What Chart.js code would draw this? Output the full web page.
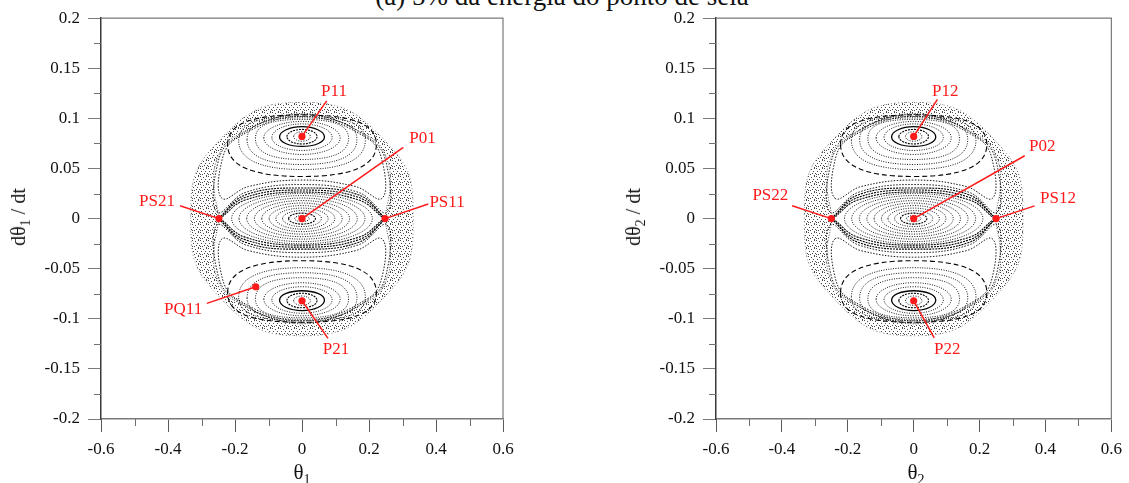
<!DOCTYPE html>
<html lang="pt">
<head>
<meta charset="UTF-8" />
<title>Seção de Poincaré</title>
<script src="https://cdn.jsdelivr.net/npm/chart.js"></script>
<style>
  html, body { margin: 0; padding: 0; background: #fff; }
  body { width: 1129px; height: 483px; overflow: hidden; position: relative;
         font-family: "Liberation Serif", "Times New Roman", serif; color: #111; }
  canvas { position: absolute; top: 0; }
  #left { left: 0; }
  #right { left: 560px; }
  .t { position: absolute; white-space: nowrap; line-height: 1; }
  .title { font-size: 27px; left: 0; width: 1124px; text-align: center; top: -17px; }
  .xt { font-size: 21px; top: 462px; transform: translateX(-50%); }
  .yt { font-size: 20px; top: 217px; transform: translate(-50%, -50%) rotate(-90deg); }
  .s { font-size: 14px; position: relative; top: 5px; }
</style>
</head>
<body>
<div class="t title">(a) 5% da energia do ponto de sela</div>
<canvas id="left" width="560" height="483"></canvas>
<canvas id="right" width="569" height="483"></canvas>
<div class="t yt" style="left:18px">dθ<span class="s">1</span> / dt</div>
<div class="t yt" style="left:633px">dθ<span class="s">2</span> / dt</div>
<div class="t xt" style="left:302px">θ<span class="s">1</span></div>
<div class="t xt" style="left:916px">θ<span class="s">2</span></div>
<script>
// eixos
const xTicks = [-0.6, -0.4, -0.2, 0, 0.2, 0.4, 0.6];
const xTickLabels = ["-0.6", "-0.4", "-0.2", "0", "0.2", "0.4", "0.6"];
const xMinor = [-0.5, -0.3, -0.1, 0.1, 0.3, 0.5];
const yTicks = [-0.2, -0.15, -0.1, -0.05, 0, 0.05, 0.1, 0.15, 0.2];
const yTickLabels = ["-0.2", "-0.15", "-0.1", "-0.05", "0", "0.05", "0.1", "0.15", "0.2"];
const yMinor = [-0.175, -0.125, -0.075, -0.025, 0.025, 0.075, 0.125, 0.175];

// contorno do mar caótico (externo) e borda da região regular (interna)
const chaosOuter = [[-0.332, 0], [-0.25, 0.077], [0, 0.116], [0.25, 0.077],
  [0.332, 0], [0.25, -0.077], [0, -0.117], [-0.25, -0.077]];
const chaosInner = [[-0.249, 0], [-0.262, 0.028], [-0.258, 0.055], [-0.21, 0.08],
  [0, 0.105], [0.21, 0.08], [0.258, 0.055], [0.262, 0.028], [0.249, 0],
  [0.262, -0.028], [0.258, -0.055], [0.21, -0.08], [0, -0.105],
  [-0.21, -0.08], [-0.258, -0.055], [-0.262, -0.028]];

// órbitas em torno de P0 (esquerda, topo, direita, base)
const centralOrbits = [
  [[-0.022, 0], [0, 0.003], [0.022, 0], [0, -0.003]],
  [[-0.040, 0], [0, 0.0055], [0.040, 0], [0, -0.0055]],
  [[-0.058, 0], [0, 0.008], [0.058, 0], [0, -0.008]],
  [[-0.078, 0], [0, 0.0105], [0.078, 0], [0, -0.0105]],
  [[-0.098, 0], [0, 0.013], [0.098, 0], [0, -0.013]],
  [[-0.120, 0], [0, 0.0155], [0.120, 0], [0, -0.0155]],
  [[-0.142, 0], [0, 0.018], [0.142, 0], [0, -0.018]],
  [[-0.165, 0], [0, 0.0205], [0.165, 0], [0, -0.0205]],
  [[-0.188, 0], [0, 0.023], [0.188, 0], [0, -0.023]],
  [[-0.210, 0], [0, 0.0252], [0.210, 0], [0, -0.0252]]
];
// separatriz (arcos abertos de PS2 a PS1)
const separatrix = [
  [[-0.25, 0], [-0.17, 0.021], [0, 0.0285], [0.17, 0.021], [0.25, 0]],
  [[-0.25, 0], [-0.17, -0.021], [0, -0.0285], [0.17, -0.021], [0.25, 0]],
  [[-0.245, 0], [-0.17, 0.0185], [0, 0.0265], [0.17, 0.0185], [0.245, 0]],
  [[-0.245, 0], [-0.17, -0.0185], [0, -0.0265], [0.17, -0.0185], [0.245, 0]],
  [[-0.25, 0], [-0.17, 0.0235], [0, 0.0305], [0.17, 0.0235], [0.25, 0]],
  [[-0.25, 0], [-0.17, -0.0235], [0, -0.0305], [0.17, -0.0235], [0.25, 0]]
];
// órbitas em torno de P1 (ilha superior)
const upperOrbits = [
  [[-0.025, 0.082], [0, 0.0866], [0.025, 0.082], [0, 0.0772]],
  [[-0.045, 0.0818], [0, 0.089], [0.045, 0.0818], [0, 0.0745]],
  [[-0.067, 0.0815], [0, 0.0918], [0.067, 0.0815], [0, 0.072]],
  [[-0.090, 0.081], [0, 0.0945], [0.090, 0.081], [0, 0.068]],
  [[-0.114, 0.0805], [0, 0.097], [0.114, 0.0805], [0, 0.064]],
  [[-0.139, 0.080], [0, 0.099], [0.139, 0.080], [0, 0.059]],
  [[-0.164, 0.079], [0, 0.1005], [0.164, 0.079], [0, 0.054]],
  [[-0.189, 0.078], [0, 0.102], [0.189, 0.078], [0, 0.049]],
  [[-0.222, 0.074], [0, 0.1035], [0.222, 0.074], [0, 0.042]]
];
// órbitas em torno de P2 (ilha inferior)
const lowerOrbits = [
  [[-0.025, -0.082], [0, -0.0772], [0.025, -0.082], [0, -0.0866]],
  [[-0.045, -0.0818], [0, -0.0745], [0.045, -0.0818], [0, -0.089]],
  [[-0.067, -0.0815], [0, -0.072], [0.067, -0.0815], [0, -0.0918]],
  [[-0.090, -0.081], [0, -0.068], [0.090, -0.081], [0, -0.0945]],
  [[-0.114, -0.0805], [0, -0.064], [0.114, -0.0805], [0, -0.097]],
  [[-0.139, -0.080], [0, -0.059], [0.139, -0.080], [0, -0.099]],
  [[-0.164, -0.079], [0, -0.054], [0.164, -0.079], [0, -0.1005]],
  [[-0.189, -0.078], [0, -0.049], [0.189, -0.078], [0, -0.102]],
  [[-0.222, -0.074], [0, -0.042], [0.222, -0.074], [0, -0.1035]]
];
// órbitas que contornam as ilhas, junto à separatriz
const wrapOrbits = [
  [[-0.252, 0.006], [-0.258, 0.045], [-0.21, 0.078], [0, 0.104], [0.21, 0.078], [0.258, 0.045],
   [0.252, 0.006], [0.17, 0.026], [0, 0.034], [-0.17, 0.026]],
  [[-0.238, 0.02], [-0.243, 0.052], [-0.2, 0.079], [0, 0.102], [0.2, 0.079], [0.243, 0.052],
   [0.238, 0.02], [0.16, 0.032], [0, 0.0385], [-0.16, 0.032]],
  [[-0.252, -0.006], [-0.258, -0.045], [-0.21, -0.078], [0, -0.104], [0.21, -0.078], [0.258, -0.045],
   [0.252, -0.006], [0.17, -0.026], [0, -0.034], [-0.17, -0.026]],
  [[-0.238, -0.02], [-0.243, -0.052], [-0.2, -0.079], [0, -0.102], [0.2, -0.079], [0.243, -0.052],
   [0.238, -0.02], [0.16, -0.032], [0, -0.0385], [-0.16, -0.032]]
];

// pontos fixos e rótulos, painel θ1
const leftNames = ["P11", "P01", "PS21", "PS11", "PQ11", "P21"];
const leftPtX = [0, 0, -0.248, 0.248, -0.138, 0];
const leftPtY = [0.082, 0, 0, 0, -0.068, -0.082];
const leftLeadX = [0.0737, 0.3025, -0.364, 0.377, -0.284, 0.0776];
const leftLeadY = [0.1175, 0.071, 0.0129, 0.0146, -0.0846, -0.1195];
const leftTextX = [0.0955, 0.36, -0.433, 0.433, -0.355, 0.1015];
const leftTextY = [0.1264, 0.0801, 0.0169, 0.0159, -0.0906, -0.1304];

// pontos fixos e rótulos, painel θ2
const rightNames = ["P12", "P02", "PS22", "PS12", "P22"];
const rightPtX = [0, 0, -0.25, 0.25, 0];
const rightPtY = [0.082, 0, 0, 0, -0.082];
const rightLeadX = [0.072, 0.337, -0.369, 0.367, 0.0624];
const rightLeadY = [0.119, 0.0627, 0.0129, 0.0127, -0.119];
const rightTextX = [0.096, 0.39, -0.435, 0.438, 0.102];
const rightTextY = [0.1264, 0.0717, 0.0229, 0.0199, -0.1304];

const FONT = '"Liberation Serif", "Times New Roman", serif';
const RED = "#ff1a1a";

// textura pontilhada para a região caótica
const stippleDots = [[0, 0], [3, 1], [6, 0], [1, 3], [5, 3], [7, 5], [2, 6], [4, 5], [0, 6], [6, 7]];
function makeStipple(ctx) {
  const c = document.createElement("canvas");
  c.width = 8; c.height = 8;
  const g = c.getContext("2d");
  g.fillStyle = "#4a4a4a";
  stippleDots.forEach(d => g.fillRect(d[0], d[1], 1, 1));
  return ctx.createPattern(c, "repeat");
}

function toXY(pts) { return pts.map(p => ({ x: p[0], y: p[1] })); }

function curve(pts, extra) {
  return Object.assign({
    data: toXY(pts), loop: true, tension: 0.55,
    borderColor: "#000", borderWidth: 0.9, borderDash: [1, 1.4],
    pointRadius: 0, fill: false, order: 5
  }, extra);
}

// fecha as curvas marcadas com loop:true
const closeLoops = {
  id: "closeLoops",
  afterDatasetUpdate(chart, args) {
    const ds = chart.data.datasets[args.index];
    if (ds.loop && args.meta.dataset) {
      args.meta.dataset._loop = true;
      args.meta.dataset._fullLoop = true;
    }
  }
};

// moldura superior/direita e marcas menores
const frame = {
  id: "frame",
  afterDraw(chart) {
    const { ctx, chartArea: a, scales: { x, y } } = chart;
    ctx.save();
    ctx.strokeStyle = "#7a7a7a";
    ctx.lineWidth = 1.2;
    ctx.beginPath();
    ctx.moveTo(a.left, a.top); ctx.lineTo(a.right, a.top); ctx.lineTo(a.right, a.bottom);
    ctx.stroke();
    ctx.strokeStyle = "#707070";
    ctx.lineWidth = 1;
    ctx.beginPath();
    xMinor.forEach(v => {
      const px = Math.round(x.getPixelForValue(v)) + 0.5;
      ctx.moveTo(px, a.bottom); ctx.lineTo(px, a.bottom + 7);
    });
    yMinor.forEach(v => {
      const py = Math.round(y.getPixelForValue(v)) + 0.5;
      ctx.moveTo(a.left - 7, py); ctx.lineTo(a.left, py);
    });
    ctx.stroke();
    ctx.restore();
  }
};

// rótulos vermelhos dos pontos
const pointLabels = {
  id: "pointLabels",
  afterDatasetsDraw(chart, args, opts) {
    const { ctx, scales: { x, y } } = chart;
    ctx.save();
    ctx.font = "17px " + FONT;
    ctx.fillStyle = RED;
    ctx.textAlign = "center";
    ctx.textBaseline = "middle";
    opts.names.forEach((n, i) => {
      ctx.fillText(n, x.getPixelForValue(opts.xs[i]), y.getPixelForValue(opts.ys[i]));
    });
    ctx.restore();
  }
};

function makePanel(id, yWidth, padRight, p) {
  const ctx = document.getElementById(id).getContext("2d");
  const stipple = makeStipple(ctx);
  const ds = [];
  ds.push(curve(chaosOuter, { fill: "shape", backgroundColor: stipple, borderColor: "#777",
    borderWidth: 0.8, borderDash: [1, 2.5], tension: 0.5, order: 10 }));
  ds.push(curve(chaosInner, { fill: "shape", backgroundColor: "#ffffff", borderColor: "#333",
    borderWidth: 0.8, borderDash: [1, 1.6], tension: 0.35, order: 9 }));
  centralOrbits.forEach((o, i) => ds.push(curve(o, i === 1 ? { borderWidth: 1.1, borderDash: [2, 1] } : {})));
  [upperOrbits, lowerOrbits].forEach(group => group.forEach((o, i) => {
    const st = { tension: i < 5 ? 0.55 : 0.68 };
    if (i === 2) { st.borderWidth = 1.3; st.borderDash = []; }
    if (i === 1) { st.borderWidth = 1.1; st.borderDash = [2, 1]; }
    if (i === 8) { st.borderDash = [5, 3]; st.borderWidth = 1.1; }
    ds.push(curve(o, st));
  }));
  wrapOrbits.forEach(o => ds.push(curve(o, { tension: 0.4, borderDash: [1.5, 1.5] })));
  separatrix.forEach(o => ds.push(curve(o, { loop: false, tension: 0.4,
    borderWidth: 1.1, borderDash: [2, 1], order: 4 })));
  p.ptX.forEach((v, i) => ds.push({
    data: toXY([[v, p.ptY[i]], [p.leadX[i], p.leadY[i]]]), tension: 0,
    borderColor: RED, borderWidth: 1.5, pointRadius: 0, fill: false, order: 2
  }));
  ds.push({
    data: toXY(p.ptX.map((v, i) => [v, p.ptY[i]])), showLine: false,
    pointRadius: 3.6, pointBackgroundColor: RED, pointBorderWidth: 0, order: 1
  });

  const tickFont = { family: FONT, size: 17 };
  return new Chart(ctx, {
    type: "line",
    data: { datasets: ds },
    options: {
      responsive: false, animation: false, devicePixelRatio: 1, events: [],
      layout: { padding: { left: 0, right: padRight, top: 17, bottom: 0 } },
      plugins: {
        legend: { display: false }, tooltip: { enabled: false },
        pointLabels: { names: p.names, xs: p.textX, ys: p.textY }
      },
      scales: {
        x: {
          type: "linear", min: -0.6, max: 0.6,
          afterBuildTicks: s => { s.ticks = xTicks.map(v => ({ value: v })); },
          afterFit: s => { s.height = 64; },
          ticks: { font: tickFont, color: "#111", padding: 7, maxRotation: 0, autoSkip: false,
            callback: v => xTickLabels[xTicks.indexOf(v)] },
          grid: { drawOnChartArea: false, drawTicks: true, tickLength: 13, tickColor: "#5a5a5a" },
          border: { display: true, color: "#7a7a7a", width: 1.5 }
        },
        y: {
          type: "linear", min: -0.2, max: 0.2,
          afterBuildTicks: s => { s.ticks = yTicks.map(v => ({ value: v })); },
          afterFit: s => { s.width = yWidth; },
          ticks: { font: tickFont, color: "#111", padding: 8, autoSkip: false,
            callback: v => yTickLabels[yTicks.indexOf(v)] },
          grid: { drawOnChartArea: false, drawTicks: true, tickLength: 13, tickColor: "#7a7a7a" },
          border: { display: true, color: "#3a3a3a", width: 1.5 }
        }
      }
    },
    plugins: [closeLoops, frame, pointLabels]
  });
}

makePanel("left", 101, 57, {
  names: leftNames, ptX: leftPtX, ptY: leftPtY,
  leadX: leftLeadX, leadY: leftLeadY, textX: leftTextX, textY: leftTextY
});
makePanel("right", 156, 13, {
  names: rightNames, ptX: rightPtX, ptY: rightPtY,
  leadX: rightLeadX, leadY: rightLeadY, textX: rightTextX, textY: rightTextY
});
</script>
</body>
</html>
